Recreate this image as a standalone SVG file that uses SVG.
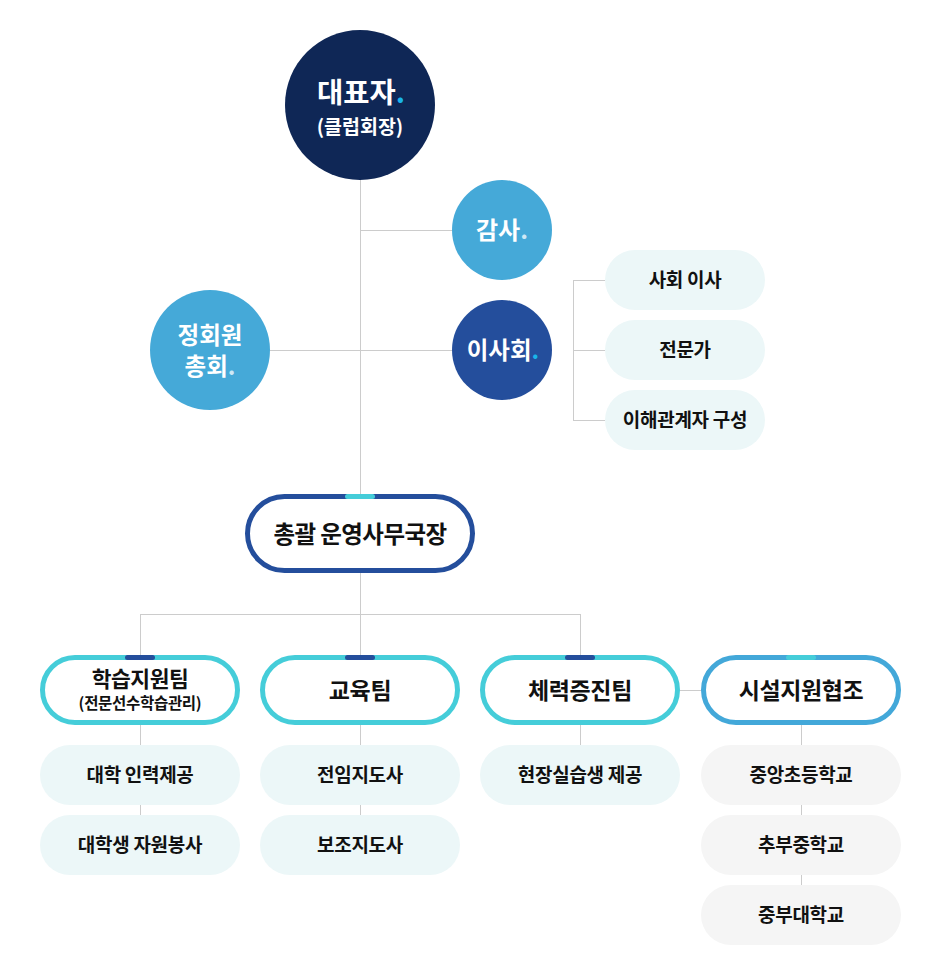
<svg xmlns="http://www.w3.org/2000/svg" width="936" height="970" viewBox="0 0 936 970">
<style>
text{font-family:"Noto Sans CJK KR","Noto Sans",sans-serif;font-weight:700;text-anchor:middle}
.w{fill:#ffffff}
.k{fill:#111111}
.conn{stroke:#cccccc;stroke-width:1;fill:none}
.sub{fill:#ecf7f8}
.subg{fill:#f5f5f5}
.team{fill:#ffffff;stroke:#45cdd9;stroke-width:5}
.st{font-size:19px;letter-spacing:-0.3px}
.tn{font-size:23px;letter-spacing:-0.4px}
.dc{fill:#19b5ea}
.dl{fill:#cde8f6}
</style>
<rect width="936" height="970" fill="#ffffff"/>
<g id="connectors" class="conn">
<path d="M360.5 180V494"/>
<path d="M360 230.5H452"/>
<path d="M270 350.5H452"/>
<path d="M573.5 280V420M573 280.5H605M573 350.5H605M573 420.5H605"/>
<path d="M360.5 573V655"/>
<path d="M140 614.5H580.5"/>
<path d="M140.5 614V655M580.5 614V655"/>
<path d="M680 690.5H701"/>
<path d="M140.5 725V745M140.5 805V815"/>
<path d="M360.5 725V745M360.5 805V815"/>
<path d="M580.5 725V745"/>
<path d="M801.5 725V745M801.5 805V815M801.5 875V885"/>
</g>
<g id="node-ceo">
<circle cx="360" cy="105" r="75" fill="#0f2756"/>
<text class="w" x="361" y="102.5" font-size="28.5">대표자<tspan class="dc">.</tspan></text>
<text class="w" x="360" y="134" font-size="19.5" font-weight="500">(클럽회장)</text>
</g>
<g id="node-audit">
<circle cx="502" cy="230" r="50" fill="#45a9d8"/>
<text class="w" x="502" y="238.5" font-size="24">감사<tspan class="dl">.</tspan></text>
</g>
<g id="node-general">
<circle cx="210" cy="350" r="60" fill="#45a9d8"/>
<text class="w" x="210" y="343.5" font-size="23.5">정회원</text>
<text class="w" x="210" y="374.5" font-size="23.5">총회<tspan class="dl">.</tspan></text>
</g>
<g id="node-board">
<circle cx="502" cy="350" r="50" fill="#244e9c"/>
<text class="w" x="503" y="358.5" font-size="23.5">이사회<tspan class="dc">.</tspan></text>
</g>
<g id="node-board-1">
<rect class="sub" x="605" y="250" width="160" height="60" rx="30"/>
<text class="k st" x="685" y="287">사회 이사</text>
</g>
<g id="node-board-2">
<rect class="sub" x="605" y="320" width="160" height="60" rx="30"/>
<text class="k st" x="685" y="357">전문가</text>
</g>
<g id="node-board-3">
<rect class="sub" x="605" y="390" width="160" height="60" rx="30"/>
<text class="k st" x="685" y="427">이해관계자 구성</text>
</g>
<g id="node-office">
<rect x="247.5" y="496.5" width="225" height="74" rx="37" fill="#ffffff" stroke="#244e9c" stroke-width="5"/>
<rect x="345" y="494" width="30" height="5" rx="2.5" fill="#45cdd9"/>
<text class="k" x="360" y="542.5" font-size="23.5" letter-spacing="-0.6">총괄 운영사무국장</text>
</g>
<g id="node-team-study">
<rect class="team" x="42.5" y="657.5" width="195" height="65" rx="32.5"/>
<rect x="125" y="655" width="30" height="5" rx="2.5" fill="#244e9c"/>
<text class="k" x="140" y="687" font-size="21.5" letter-spacing="-0.5">학습지원팀</text>
<text class="k" x="140" y="708.5" font-size="15.5" font-weight="500" letter-spacing="-0.3">(전문선수학습관리)</text>
</g>
<g id="node-team-edu">
<rect class="team" x="262.5" y="657.5" width="195" height="65" rx="32.5"/>
<rect x="345" y="655" width="30" height="5" rx="2.5" fill="#244e9c"/>
<text class="k tn" x="360" y="698.5">교육팀</text>
</g>
<g id="node-team-fit">
<rect class="team" x="482.5" y="657.5" width="195" height="65" rx="32.5"/>
<rect x="565" y="655" width="30" height="5" rx="2.5" fill="#244e9c"/>
<text class="k tn" x="580" y="698.5">체력증진팀</text>
</g>
<g id="node-team-facility">
<rect x="703.5" y="657.5" width="195" height="65" rx="32.5" fill="#ffffff" stroke="#43a8d9" stroke-width="5"/>
<rect x="786" y="655" width="30" height="5" rx="2.5" fill="#45cdd9"/>
<text class="k tn" x="801" y="698.5">시설지원협조</text>
</g>
<g id="node-study-1">
<rect class="sub" x="40" y="745" width="200" height="60" rx="30"/>
<text class="k st" x="140" y="782">대학 인력제공</text>
</g>
<g id="node-study-2">
<rect class="sub" x="40" y="815" width="200" height="60" rx="30"/>
<text class="k st" x="140" y="852">대학생 자원봉사</text>
</g>
<g id="node-edu-1">
<rect class="sub" x="260" y="745" width="200" height="60" rx="30"/>
<text class="k st" x="360" y="782">전임지도사</text>
</g>
<g id="node-edu-2">
<rect class="sub" x="260" y="815" width="200" height="60" rx="30"/>
<text class="k st" x="360" y="852">보조지도사</text>
</g>
<g id="node-fit-1">
<rect class="sub" x="480" y="745" width="200" height="60" rx="30"/>
<text class="k st" x="580" y="782">현장실습생 제공</text>
</g>
<g id="node-fac-1">
<rect class="subg" x="701" y="745" width="200" height="60" rx="30"/>
<text class="k st" x="801" y="782">중앙초등학교</text>
</g>
<g id="node-fac-2">
<rect class="subg" x="701" y="815" width="200" height="60" rx="30"/>
<text class="k st" x="801" y="852">추부중학교</text>
</g>
<g id="node-fac-3">
<rect class="subg" x="701" y="885" width="200" height="60" rx="30"/>
<text class="k st" x="801" y="922">중부대학교</text>
</g>
</svg>
